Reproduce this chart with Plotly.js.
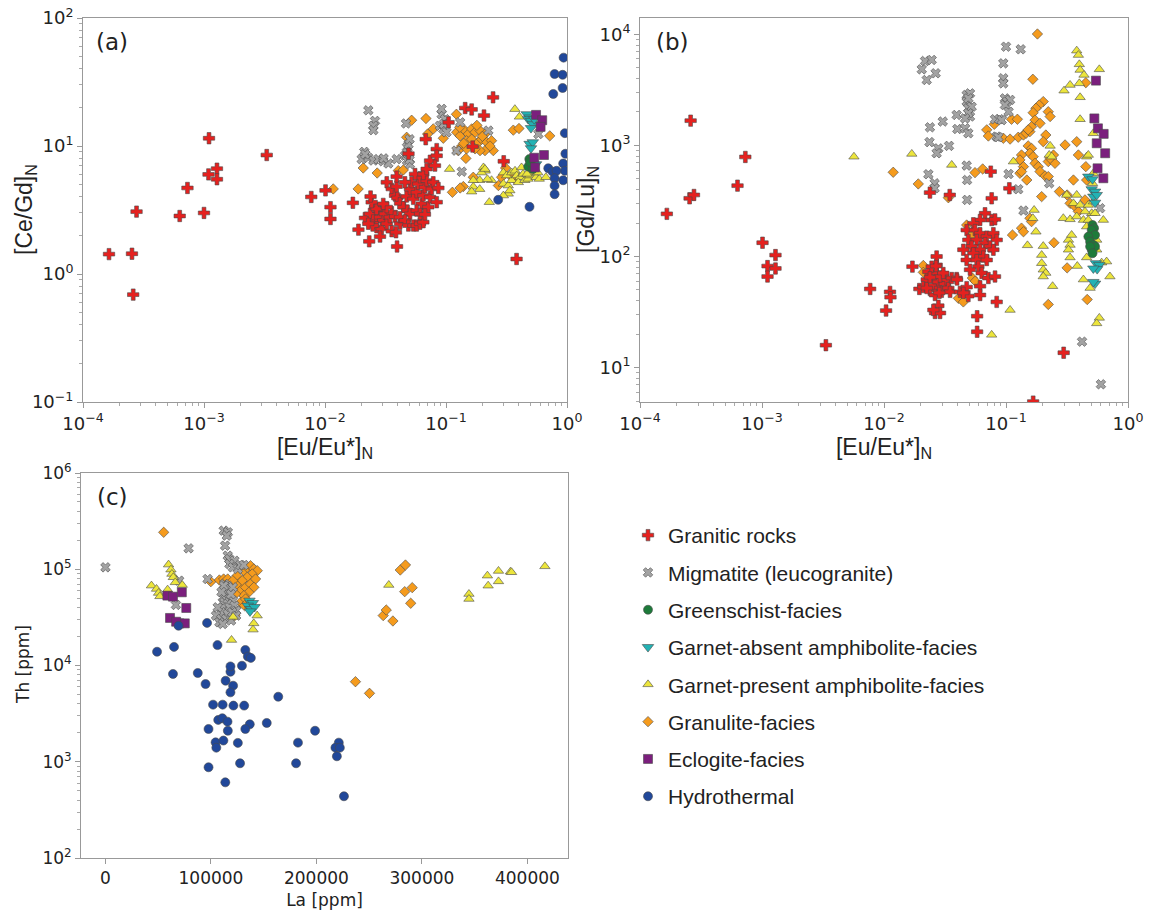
<!DOCTYPE html>
<html>
<head>
<meta charset="utf-8">
<script src="https://cdn.plot.ly/plotly-3.0.1.min.js"></script>
<style>html,body{margin:0;padding:0;background:#fff;}#chart{width:1150px;height:916px;}</style>
</head>
<body>
<div id="chart"></div>
<script>
// ---------------- DATA ----------------
// Legend categories
const categories = ["Granitic rocks","Migmatite (leucogranite)","Greenschist-facies","Garnet-absent amphibolite-facies","Garnet-present amphibolite-facies","Granulite-facies","Eclogite-facies","Hydrothermal"];

// Panel (a): [Eu/Eu*]N vs [Ce/Gd]N
const granitic_a = [[1.64e-4,1.43],[2.54e-4,1.44],[2.6e-4,0.69],[2.77e-4,3.07],[6.3e-4,2.84],[7.3e-4,4.7],[1.0e-3,3.0],[1.1e-3,11.5],[1.09e-3,6.0],[1.28e-3,6.65],[1.28e-3,5.5],[3.3e-3,8.5],[7.7e-3,4.0],[0.0101,4.5],[0.0111,3.33],[0.0111,2.69],[0.017,3.6],[0.0189,2.22],[0.0232,1.8],[0.0394,1.64],[0.383,1.31],[0.245,24],[0.144,19.8],[0.163,19.3],[0.206,17.3],[0.105,15.3],[0.068,11.3],[0.049,8.7],[0.30,7.6],[0.166,9.9],
[0.0214,2.74],[0.0236,2.95],[0.0251,2.62],[0.0259,3.33],[0.0276,3.13],[0.0285,2.78],[0.0303,2.62],[0.0267,2.32],[0.0294,2.25],[0.0313,2.95],[0.0324,2.47],[0.0344,2.78],[0.0356,3.04],[0.0379,2.81],[0.0417,2.47],[0.0248,2.39],[0.0228,2.47],[0.0285,1.96],[0.0356,2.16],[0.0386,2.12],[0.0267,3.23],[0.0324,3.33],[0.0303,3.53],[0.0243,3.64],[0.0238,4.03],
[0.0324,5.21],[0.0356,4.62],[0.0379,4.10],[0.0391,4.82],[0.0396,3.93],[0.0417,3.57],[0.0444,3.33],[0.0479,3.13],[0.0504,2.95],[0.0417,2.78],[0.0458,2.62],[0.0489,2.39],[0.0537,2.39],[0.0573,2.39],[0.0610,2.47],[0.0650,2.54],
[0.0473,4.03],[0.0504,4.62],[0.0520,5.21],[0.0537,3.86],[0.0573,4.35],[0.0590,5.06],[0.0610,5.69],[0.0630,3.53],[0.0650,4.10],[0.0670,4.76],[0.0692,5.37],[0.0714,3.33],[0.0738,3.98],[0.0762,4.62],[0.0785,5.21],[0.0573,3.13],[0.0610,2.95],[0.0555,6.04],[0.0650,6.04],[0.0692,6.61],[0.0738,7.67],[0.0838,9.46],[0.0838,8.39],[0.0811,7.02],[0.0865,4.70],[0.0838,3.64],[0.0670,2.92],[0.0391,5.77],[0.0458,5.21]];
const migmatite_a = [[0.0228,19],[0.0259,15.7],[0.0251,14.4],[0.0251,13.3],[0.0211,9.0],[0.0201,7.9],[0.0228,8.1],[0.0251,7.7],[0.0276,7.9],[0.0303,7.6],[0.0334,7.3],[0.0391,7.9],[0.0458,8.4],[0.0476,7.7],[0.0504,7.2],[0.0476,9.8],[0.0490,10.3],[0.0500,11.3],[0.0467,15.0],[0.092,17.7],[0.098,16.2],[0.089,14.4],[0.095,13.6],[0.101,12.8],[0.092,19.5],[0.122,9.2],[0.135,6.3],[0.131,15.3],[0.224,13.2],[0.58,12.4],[0.0215,8.6],[0.0305,8.0],[0.048,8.8],[0.096,14.9],[0.05,7.8]];
const greenschist_a = [[0.488,7.9],[0.504,7.2],[0.478,6.9],[0.522,6.6],[0.495,7.5]];
const garnetAbsent_a = [[0.465,17.7],[0.491,16.7],[0.478,16.2],[0.504,15.7],[0.522,14.8],[0.536,16.2],[0.504,13.8],[0.491,10.4],[0.522,10.7],[0.504,9.6],[0.522,6.8],[0.555,7.2]];
const garnetPresent_a = [[0.107,6.6],[0.371,19.4],[0.404,16.9],[0.204,6.8],[0.211,6.4],[0.197,6.2],[0.190,5.4],[0.168,5.4],[0.168,4.8],[0.190,4.6],[0.163,4.4],[0.228,3.64],[0.238,5.4],[0.298,6.2],[0.298,5.06],[0.327,4.91],[0.349,5.4],[0.327,4.23],[0.298,4.10],[0.337,4.49],[0.317,5.88],[0.349,6.2],[0.372,6.4],[0.384,5.88],[0.408,5.7],[0.396,5.2],[0.434,6.05],[0.448,5.4],[0.476,5.53],[0.491,5.88],[0.522,6.2],[0.555,5.7],[0.590,5.53],[0.669,5.7],[0.573,6.2],[0.421,6.8],[0.467,6.05],[0.21,6.6],[0.22,5.5]];
const granulite_a = [[0.0117,4.62],[0.0188,4.62],[0.0207,6.73],[0.0270,6.15],[0.0403,6.42],[0.0444,6.5],[0.0473,11.7],[0.052,15.9],[0.0683,16.4],[0.0705,12.4],[0.0785,13.6],[0.095,11.5],[0.122,17.7],
[0.1225,12.8],[0.1306,12.0],[0.1436,13.2],[0.153,12.4],[0.163,13.6],[0.174,12.8],[0.191,13.2],[0.210,12.4],[0.135,10.0],[0.148,11.0],[0.163,11.3],[0.185,10.7],[0.197,11.3],[0.217,10.7],[0.238,11.0],[0.246,9.2],[0.210,9.2],[0.191,9.2],[0.174,9.5],[0.148,9.5],[0.126,9.2],[0.231,10.0],[0.130,14.0],[0.180,14.5],[0.200,11.9],[0.140,10.5],
[0.146,8.0],[0.168,5.7],[0.139,4.82],[0.113,4.35],[0.271,4.91],[0.311,6.73],[0.360,13.3],[0.401,13.7],[0.72,12.0],[0.338,5.9],[0.371,5.5],[0.288,5.7],[0.131,4.7]];
const eclogite_a = [[0.555,17.5],[0.624,15.9],[0.605,14.1],[0.645,8.5],[0.536,8.1],[0.545,6.8]];
const hydrothermal_a = [[0.937,49],[0.79,36.5],[0.92,36],[0.77,25.5],[0.92,28.4],[0.96,12.6],[0.97,8.7],[0.93,7.3],[0.96,6.4],[0.70,6.7],[0.76,6.3],[0.82,6.4],[0.79,5.6],[0.79,4.9],[0.79,4.2],[0.93,5.4],[0.27,3.8],[0.49,3.35]];

// Panel (b): [Eu/Eu*]N vs [Gd/Lu]N
const granitic_b = [[1.66e-4,242],[2.6e-4,1670],[2.55e-4,334],[2.77e-4,358],[6.3e-4,434],[7.3e-4,787],[1.01e-3,133],[1.11e-3,82],[1.11e-3,66],[1.29e-3,103],[1.29e-3,78],[3.34e-3,15.9],[7.7e-3,51],[0.0112,48],[0.0113,43],[0.0104,32.6],[0.0171,81],[0.297,13.6],[0.167,4.94],[0.0238,376],[0.0346,358],
[0.0195,51],[0.0210,53],[0.0231,73],[0.0224,62],[0.0238,50],[0.0254,55],[0.0262,64],[0.0270,71],[0.0279,59],[0.0288,52],[0.0297,48],[0.0306,66],[0.0316,57],[0.0327,62],[0.0337,52],[0.0348,48],[0.0359,64],[0.0394,64],[0.0270,84],[0.0288,66],[0.0246,81],[0.0224,52],[0.0262,45],[0.0284,47],[0.0279,36],[0.0262,31],[0.0288,31],[0.0254,33],[0.0306,71],[0.0420,48],[0.0476,53],[0.0397,62],[0.0270,100],[0.0267,82],[0.0238,65],
[0.0673,245],[0.0763,213],[0.0813,216],[0.0613,213],[0.0540,199],[0.0476,173],[0.0557,173],[0.0613,162],[0.0695,151],[0.0788,162],[0.0839,141],[0.0491,141],[0.0575,141],[0.0673,132],[0.0740,123],[0.0523,123],[0.0613,115],[0.0788,115],[0.0447,115],[0.0540,107],[0.0652,100],[0.0476,93],[0.0575,93],[0.0695,93],[0.0594,81],[0.0507,76],[0.0632,71],[0.0717,64],[0.0813,66],[0.0613,54],[0.0491,44],[0.0613,45],[0.0839,39],[0.0447,47],[0.058,29],[0.058,21],[0.075,581],[0.1065,411],[0.0763,334]];
const migmatite_b = [[0.0217,5750],[0.0246,5880],[0.0204,4840],[0.0265,4460],[0.0224,3880],[0.0476,2840],[0.0476,2480],[0.0491,2160],[0.0394,1880],[0.0303,1640],[0.0507,1820],[0.0238,1455],[0.0399,1405],[0.0236,1070],[0.0279,940],[0.0270,850],[0.0341,990],[0.0476,658],[0.048,488],[0.0231,550],[0.026,456],[0.026,411],[0.048,323],[0.100,7740],[0.132,7330],[0.095,5480],[0.095,4020],[0.095,3620],[0.0523,2230],[0.0491,1950],[0.0462,1750],[0.0462,1425],[0.0491,1285],[0.098,2650],[0.102,2480],[0.108,2570],[0.098,2310],[0.105,2010],[0.0813,1720],[0.0881,1720],[0.0922,1690],[0.0839,1200],[0.0866,1185],[0.105,553],[0.126,403],[0.139,259],[0.226,456],[0.59,272],[0.42,17.1],[0.60,7.07],[0.0507,2940],[0.0491,2650]];
const greenschist_b = [[0.512,192],[0.527,180],[0.504,173],[0.537,156],[0.473,151],[0.489,136],[0.520,127],[0.504,115],[0.537,123],[0.489,123],[0.512,107]];
const garnetAbsent_b = [[0.473,524],[0.512,496],[0.504,403],[0.537,384],[0.520,346],[0.554,358],[0.537,305],[0.546,87],[0.582,84],[0.559,77],[0.520,78],[0.537,57],[0.520,59]];
const garnetPresent_b = [[5.67e-3,791],[0.0169,838],[0.0359,667],[0.380,7130],[0.392,6510],[0.399,5370],[0.405,4780],[0.436,4310],[0.399,3620],[0.582,4840],[0.299,3110],[0.335,3500],[0.405,2710],[0.405,1720],[0.520,1285],
[0.115,715],[0.230,990],[0.226,820],[0.237,792],[0.520,561],[0.512,456],[0.458,792],[0.473,820],
[0.314,358],[0.380,358],[0.357,301],[0.405,291],[0.473,291],[0.520,312],[0.504,245],[0.444,254],[0.295,221],[0.335,216],[0.380,229],[0.431,213],[0.473,213],[0.537,245],[0.628,213],[0.458,186],[0.504,167],[0.554,141],
[0.170,262],[0.166,221],[0.176,167],[0.150,126],[0.202,124],[0.196,103],[0.196,87],[0.202,76],[0.212,71],[0.202,66],[0.241,54],[0.325,141],[0.335,127],[0.325,115],[0.345,156],[0.335,98],[0.384,82],[0.458,98],[0.554,115],[0.608,88],[0.668,90],[0.711,66],[0.431,62],[0.489,52],[0.108,33],[0.0763,19.7],[0.582,28],[0.554,25]];
const granulite_b = [[0.181,10070],[0.166,3940],[0.451,3670],[0.202,2480],[0.187,2310],[0.176,2160],[0.167,1970],[0.222,2010],[0.230,1820],[0.173,1690],[0.111,1720],[0.124,1720],
[0.0695,1380],[0.0717,1215],[0.0802,1550],[0.0951,1160],[0.108,1140],[0.126,1185],[0.139,1240],[0.146,1285],[0.157,1330],[0.162,1475],[0.152,1380],[0.190,1580],[0.212,1240],[0.305,1010],[0.380,1080],[0.392,820],[0.451,644],[0.357,488],[0.274,384],[0.317,358],
[0.152,990],[0.162,940],[0.157,850],[0.167,792],[0.173,690],[0.184,644],[0.190,581],[0.209,531],[0.222,524],[0.134,820],[0.130,740],[0.139,644],[0.130,561],[0.148,488],[0.196,346],[0.222,715],[0.245,820],[0.252,690],[0.230,765],[0.202,1080],
[0.0557,569],[0.0644,614],[0.134,581],[0.157,221],[0.162,206],[0.134,180],[0.139,167],[0.113,156],[0.247,133],[0.317,79],[0.222,37],[0.463,41],[0.458,488],[0.335,301],[0.368,281],[0.392,254],[0.444,323],
[0.0119,573],[0.0191,450],[0.0337,338],[0.021,83],[0.021,72],[0.0407,42],[0.0447,39],[0.0476,192],[0.0523,156],[0.053,64],[0.056,60]];
const eclogite_b = [[0.546,3830],[0.530,1750],[0.567,1425],[0.632,1270],[0.554,1045],[0.65,850],[0.563,622],[0.628,506]];

// Panel (c): La [ppm] vs Th [ppm]
const migmatite_c = [[112100,251700],[116000,242000],[115000,223500],[113400,175800],[0,104700],[78800,164900],[66800,42600],[69900,76100],[96800,79200],[115900,138400],[117500,127700],[122300,122700],[117500,113500],[120700,104700],[125500,100700],[128000,110700],[131200,110700],[112700,70300],[115900,67500],[117500,62400],[120700,64900],[111200,51000],[114300,49100],[117500,49100],[120700,47200],[112700,45300],[115900,43600],[111200,40200],[117500,40200],[122300,41900],[123900,37100],[109600,35700],[115900,34300],[106400,40200],[104800,33000],[109600,30400],[114300,30400],[119100,29300],[108000,28100],[111200,27000],[120100,35700],[123900,33000],[112200,67500],[110000,58000],[119000,55000]];
const garnetAbsent_c = [[136500,47200],[139700,44600],[134900,41900],[138100,38600],[141300,40500],[137000,36500]];
const garnetPresent_c = [[43600,67600],[48400,62400],[50300,56700],[51600,52300],[58900,61400],[59800,111700],[62100,99100],[63000,89300],[64300,82500],[66200,73100],[72800,68600],[119500,18400],[136800,42600],[143800,33000],[140600,27400],[139900,23600],[268600,68600],[344600,55300],[344600,49100],[362100,85800],[362800,67500],[372600,96000],[372600,74800],[384000,94400],[385000,93000],[416600,107200],[121000,32000]];
const granulite_c = [[55200,242000],[99900,74300],[237000,6790],[250300,5140],[263300,33000],[266200,37700],[272500,29000],[279500,98200],[284400,110700],[283700,58500],[290800,64400],[289400,44300],[108000,77300],[112000,79200],[124800,85800],[128000,73100],[131200,96600],[134400,104700],[137500,108900],[140700,100700],[143900,96600],[139100,89300],[134400,82500],[129600,76100],[124800,67500],[128000,59900],[132800,64900],[137500,70300],[142300,79200],[140700,64900],[135900,57600],[131200,53200],[123300,55300],[128000,45300],[132800,49100],[115900,79200],[120700,76100],[131800,41900],[122700,33000]];
const eclogite_c = [[58700,53200],[64000,51900],[72400,57600],[76600,39600],[61200,31200],[70000,27400],[75200,27400],[67000,28500]];
const hydrothermal_c = [[48900,13900],[65000,15600],[64000,8170],[69300,25900],[96300,27700],[106200,16300],[87500,8360],[94900,6420],[113900,6950],[118500,8620],[118500,9790],[121000,6170],[118500,5260],[129400,9950],[132600,14500],[135000,12400],[137800,12000],[102000,3920],[111100,3920],[121300,3830],[131500,3830],[163800,4740],[106900,2720],[110800,2830],[115700,2610],[136800,2450],[132600,2190],[97700,2190],[116000,2100],[152900,2530],[198700,2100],[104400,1590],[105100,1400],[111800,1660],[125500,1570],[182500,1580],[221200,1580],[218000,1400],[222200,1400],[219400,1140],[180700,964],[127600,964],[97700,876],[113600,611],[226100,438]];

// Tick labels
const logTickVals_ab = [1e-4,1e-3,1e-2,1e-1,1];
const logTickText_ab = ["10<sup>\u22124</sup>","10<sup>\u22123</sup>","10<sup>\u22122</sup>","10<sup>\u22121</sup>","10<sup>0</sup>"];
const yTickVals_a = [0.1,1,10,100];
const yTickText_a = ["10<sup>\u22121</sup>","10<sup>0</sup>","10<sup>1</sup>","10<sup>2</sup>"];
const yTickVals_b = [10,100,1000,10000];
const yTickText_b = ["10<sup>1</sup>","10<sup>2</sup>","10<sup>3</sup>","10<sup>4</sup>"];
const yTickVals_c = [100,1000,10000,100000,1000000];
const yTickText_c = ["10<sup>2</sup>","10<sup>3</sup>","10<sup>4</sup>","10<sup>5</sup>","10<sup>6</sup>"];
const xTickVals_c = [0,100000,200000,300000,400000];
const xTickText_c = ["0","100000","200000","300000","400000"];

// ---------------- STYLES ----------------
const STY = {
  granitic:     {symbol:"cross",         color:"#e5211f", size:9.5},
  migmatite:    {symbol:"x",             color:"#a3a3a3", size:8.5},
  greenschist:  {symbol:"circle",        color:"#1d7a3a", size:9},
  garnetAbsent: {symbol:"triangle-down", color:"#22b2b4", size:10},
  garnetPresent:{symbol:"triangle-up",   color:"#ece53c", size:9},
  granulite:    {symbol:"diamond",       color:"#f59b1d", size:8},
  eclogite:     {symbol:"square",        color:"#7b1f7d", size:9},
  hydrothermal: {symbol:"circle",        color:"#21489a", size:9}
};
const KEYS = ["granitic","migmatite","greenschist","garnetAbsent","garnetPresent","granulite","eclogite","hydrothermal"];

function tr(key, pts, xa, ya, legend) {
  const s = STY[key];
  const idx = KEYS.indexOf(key);
  return {
    type: "scatter", mode: "markers",
    x: pts.map(p => p[0]), y: pts.map(p => p[1]),
    xaxis: xa, yaxis: ya,
    name: categories[idx],
    legendgroup: key, legendrank: idx + 1,
    showlegend: !!legend,
    marker: {symbol: s.symbol, color: s.color, size: s.size, line: {color: "#4a4a4a", width: 0.6}},
    hoverinfo: "x+y+name"
  };
}

// draw order (later on top)
const traces = [
  tr("granulite", granulite_a, "x", "y", true),
  tr("migmatite", migmatite_a, "x", "y", true),
  tr("granitic", granitic_a, "x", "y", true),
  tr("garnetPresent", garnetPresent_a, "x", "y", true),
  tr("garnetAbsent", garnetAbsent_a, "x", "y", true),
  tr("greenschist", greenschist_a, "x", "y", true),
  tr("eclogite", eclogite_a, "x", "y", true),
  tr("hydrothermal", hydrothermal_a, "x", "y", true),

  tr("granulite", granulite_b, "x2", "y2"),
  tr("migmatite", migmatite_b, "x2", "y2"),
  tr("granitic", granitic_b, "x2", "y2"),
  tr("garnetPresent", garnetPresent_b, "x2", "y2"),
  tr("garnetAbsent", garnetAbsent_b, "x2", "y2"),
  tr("greenschist", greenschist_b, "x2", "y2"),
  tr("eclogite", eclogite_b, "x2", "y2"),

  tr("granulite", granulite_c, "x3", "y3"),
  tr("migmatite", migmatite_c, "x3", "y3"),
  tr("garnetPresent", garnetPresent_c, "x3", "y3"),
  tr("garnetAbsent", garnetAbsent_c, "x3", "y3"),
  tr("eclogite", eclogite_c, "x3", "y3"),
  tr("hydrothermal", hydrothermal_c, "x3", "y3")
];

const W = 1150, H = 916;
const dx = (a, b) => [a / W, b / W];
const dy = (top, bot) => [1 - bot / H, 1 - top / H];

const tickFontAB = {family: "DejaVu Sans, sans-serif", size: 18, color: "#222"};
const tickFontC = {family: "DejaVu Sans, sans-serif", size: 17, color: "#222"};
const titleFontAB = {family: "Liberation Sans, Arial, sans-serif", size: 23, color: "#222"};
const titleFontC = {family: "DejaVu Sans, sans-serif", size: 17, color: "#222"};

function logAxis(domain, range, vals, text, title, tfont, titfont, standoff) {
  return {
    domain: domain, type: "log", range: range, autorange: false,
    tickmode: "array", tickvals: vals, ticktext: text,
    tickfont: tfont, ticks: "outside", ticklen: 5, tickwidth: 1, tickcolor: "#999",
    minor: {ticks: "outside", ticklen: 3, tickwidth: 0.8, tickcolor: "#aaa", dtick: "D1", showgrid: false},
    showline: true, mirror: true, linecolor: "#999", linewidth: 1,
    showgrid: false, zeroline: false, automargin: false,
    title: {text: title, font: titfont, standoff: standoff}
  };
}

const ann = (text, px, py, font, angle) => ({
  text: text, xref: "paper", yref: "paper", x: px / W, y: 1 - py / H,
  xanchor: "center", yanchor: "middle", showarrow: false, font: font, textangle: angle || 0
});
const panelFont = {family: "DejaVu Sans, sans-serif", size: 23, color: "#222"};

const layout = {
  width: W, height: H,
  margin: {l: 0, r: 0, t: 0, b: 0},
  paper_bgcolor: "#fff", plot_bgcolor: "#fff",
  showlegend: true,
  xaxis: Object.assign(logAxis(dx(83, 567), [-4, 0], logTickVals_ab, logTickText_ab, "[Eu/Eu*]<sub>N</sub>", tickFontAB, titleFontAB, 2), {anchor: "y"}),
  yaxis: Object.assign(logAxis(dy(18, 402), [-1, 2], yTickVals_a, yTickText_a, "", tickFontAB, titleFontAB, 2), {anchor: "x"}),
  xaxis2: Object.assign(logAxis(dx(640, 1128), [-4, 0], logTickVals_ab, logTickText_ab, "[Eu/Eu*]<sub>N</sub>", tickFontAB, titleFontAB, 2), {anchor: "y2"}),
  yaxis2: Object.assign(logAxis(dy(18, 402), [0.69, 4.147], yTickVals_b, yTickText_b, "", tickFontAB, titleFontAB, 2), {anchor: "x2"}),
  xaxis3: {
    domain: dx(81, 568), anchor: "y3", type: "linear", range: [-23200, 438500], autorange: false,
    tickmode: "array", tickvals: xTickVals_c, ticktext: xTickText_c,
    tickfont: tickFontC, ticks: "outside", ticklen: 5, tickwidth: 1, tickcolor: "#999",
    showline: true, mirror: true, linecolor: "#999", linewidth: 1,
    showgrid: false, zeroline: false, automargin: false,
    title: {text: "La [ppm]", font: titleFontC, standoff: 6}
  },
  yaxis3: Object.assign(logAxis(dy(473, 858), [2, 6], yTickVals_c, yTickText_c, "", tickFontC, titleFontC, 4), {anchor: "x3"}),
  legend: {
    x: 628 / W, y: 1 - 515 / H, xanchor: "left", yanchor: "top",
    font: {family: "Liberation Sans, Arial, sans-serif", size: 21, color: "#222"},
    bgcolor: "rgba(0,0,0,0)", borderwidth: 0,
    tracegroupgap: 7, traceorder: "grouped", itemclick: false, itemdoubleclick: false
  },
  annotations: [
    Object.assign(ann("(a)", 112, 42, panelFont)),
    Object.assign(ann("(b)", 672, 42, panelFont)),
    Object.assign(ann("(c)", 112, 497, panelFont)),
    ann("[Ce/Gd]<sub>N</sub>", 25, 210, titleFontAB, -90),
    ann("[Gd/Lu]<sub>N</sub>", 587, 210, titleFontAB, -90),
    ann("Th [ppm]", 23, 665, titleFontC, -90)
  ]
};

Plotly.newPlot("chart", traces, layout, {displayModeBar: false, staticPlot: false});
</script>
</body>
</html>
